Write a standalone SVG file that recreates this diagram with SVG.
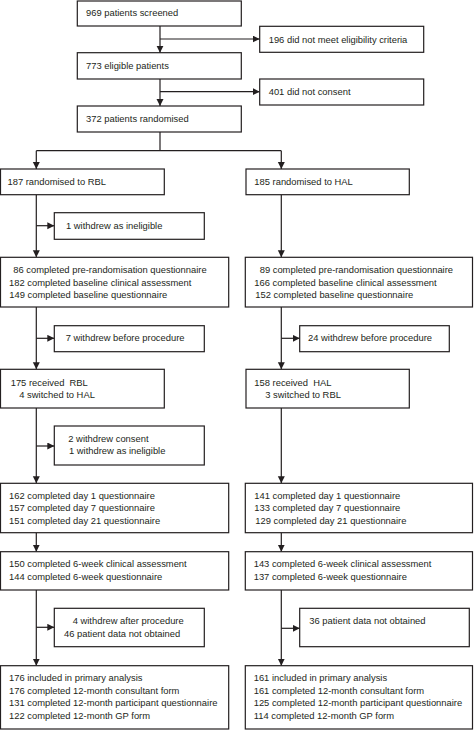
<svg xmlns="http://www.w3.org/2000/svg" width="474" height="730" viewBox="0 0 474 730">
<style>
rect.b{fill:#fff;stroke:#231f20;stroke-width:1.2}
text{font-family:"Liberation Sans",Arial,sans-serif;font-size:9.4px;fill:#231f20}
text.pre{white-space:pre}
.c path{fill:none;stroke:#231f20;stroke-width:1.2}
</style>
<defs>
<marker id="ah" markerUnits="userSpaceOnUse" markerWidth="8" markerHeight="8" refX="7" refY="3.5" orient="auto"><path d="M0,0 L7,3.5 L0,7 z" fill="#231f20"/></marker>
</defs>
<rect width="474" height="730" fill="#fff"/>
<g class="c" id="connectors">
<path d="M160,26 V52.7" marker-end="url(#ah)"/>
<path d="M160,39 H259.7" marker-end="url(#ah)"/>
<path d="M160,79 V106" marker-end="url(#ah)"/>
<path d="M160,91.7 H259.7" marker-end="url(#ah)"/>
<path d="M160,132 V150.7 M36.3,150.7 H281.3"/>
<path d="M36.3,150.7 V169" marker-end="url(#ah)"/>
<path d="M281.3,150.7 V169" marker-end="url(#ah)"/>
<path d="M36.3,194.7 V257.3" marker-end="url(#ah)"/>
<path d="M36.3,225.7 H54.3" marker-end="url(#ah)"/>
<path d="M36.3,307 V369.3" marker-end="url(#ah)"/>
<path d="M36.3,338.3 H54.3" marker-end="url(#ah)"/>
<path d="M36.3,408 V483.3" marker-end="url(#ah)"/>
<path d="M36.3,446 H54.3" marker-end="url(#ah)"/>
<path d="M36.3,532.7 V551.7" marker-end="url(#ah)"/>
<path d="M36.3,590 V665.7" marker-end="url(#ah)"/>
<path d="M36.3,627.3 H54.3" marker-end="url(#ah)"/>
<path d="M281.3,194.7 V257.3" marker-end="url(#ah)"/>
<path d="M281.3,307 V369.3" marker-end="url(#ah)"/>
<path d="M281.3,338.3 H299.7" marker-end="url(#ah)"/>
<path d="M281.3,408 V483.3" marker-end="url(#ah)"/>
<path d="M281.3,532.7 V551.7" marker-end="url(#ah)"/>
<path d="M281.3,590 V665.7" marker-end="url(#ah)"/>
<path d="M281.3,628.3 H299.7" marker-end="url(#ah)"/>
</g>
<g id="screened"><rect class="b" x="77.3" y="1" width="164" height="25"/><text x="86" y="16">969 patients screened</text></g>
<g id="ineligible"><rect class="b" x="259.7" y="26.3" width="164" height="26"/><text x="268.7" y="42.5">196 did not meet eligibility criteria</text></g>
<g id="eligible"><rect class="b" x="77.3" y="52.7" width="164" height="26.3"/><text x="86" y="68.5">773 eligible patients</text></g>
<g id="noconsent"><rect class="b" x="259.7" y="79" width="164" height="26"/><text x="268.7" y="95">401 did not consent</text></g>
<g id="randomised"><rect class="b" x="77.3" y="106" width="164" height="26"/><text x="86" y="121.6">372 patients randomised</text></g>
<g id="rbl"><rect class="b" x="0.5" y="169" width="163.8" height="25.7"/><text x="7.5" y="185">187 randomised to RBL</text></g>
<g id="hal"><rect class="b" x="246" y="169" width="163.3" height="25.7"/><text x="254.3" y="185">185 randomised to HAL</text></g>
<g id="rbl-w1"><rect class="b" x="54.3" y="212.7" width="150" height="26.6"/><text x="66" y="229">1 withdrew as ineligible</text></g>
<g id="rbl-baseline"><rect class="b" x="0.5" y="257.3" width="228.2" height="49.7"/>
<text x="13.3" y="273.3">86 completed pre-randomisation questionnaire</text>
<text x="9" y="285.6">182 completed baseline clinical assessment</text>
<text x="9.3" y="298.3">149 completed baseline questionnaire</text></g>
<g id="hal-baseline"><rect class="b" x="245.3" y="257.3" width="227.2" height="49.7"/>
<text x="259.7" y="273.3">89 completed pre-randomisation questionnaire</text>
<text x="254.3" y="285.6">166 completed baseline clinical assessment</text>
<text x="255.3" y="298.3">152 completed baseline questionnaire</text></g>
<g id="rbl-w2"><rect class="b" x="54.3" y="325.7" width="150" height="26"/><text x="65.7" y="340.8">7 withdrew before procedure</text></g>
<g id="hal-w2"><rect class="b" x="299.7" y="325.7" width="149.6" height="26"/><text x="308" y="340.8">24 withdrew before procedure</text></g>
<g id="rbl-received"><rect class="b" x="0.5" y="369.3" width="163.8" height="38.7"/>
<text class="pre" x="10.7" y="385.6">175 received  RBL</text>
<text x="19.3" y="397.6">4 switched to HAL</text></g>
<g id="hal-received"><rect class="b" x="246" y="369.3" width="163.3" height="38.7"/>
<text class="pre" x="254.3" y="385.6">158 received  HAL</text>
<text x="265.3" y="397.6">3 switched to RBL</text></g>
<g id="rbl-w3"><rect class="b" x="54.3" y="426" width="150" height="39"/>
<text x="68.3" y="442.3">2 withdrew consent</text>
<text x="69" y="454.3">1 withdrew as ineligible</text></g>
<g id="rbl-days"><rect class="b" x="0.5" y="483.3" width="228.2" height="49.4"/>
<text x="9" y="499">162 completed day 1 questionnaire</text>
<text x="9" y="511.3">157 completed day 7 questionnaire</text>
<text x="9" y="524">151 completed day 21 questionnaire</text></g>
<g id="hal-days"><rect class="b" x="245.3" y="483.3" width="227.2" height="49.4"/>
<text x="254.3" y="499">141 completed day 1 questionnaire</text>
<text x="254.3" y="511.3">133 completed day 7 questionnaire</text>
<text x="255.3" y="524">129 completed day 21 questionnaire</text></g>
<g id="rbl-6wk"><rect class="b" x="0.5" y="551.7" width="228.2" height="38.3"/>
<text x="9" y="567.3">150 completed 6-week clinical assessment</text>
<text x="9" y="580">144 completed 6-week questionnaire</text></g>
<g id="hal-6wk"><rect class="b" x="245.3" y="551.7" width="227.2" height="38.3"/>
<text x="253.7" y="567.3">143 completed 6-week clinical assessment</text>
<text x="253.7" y="580">137 completed 6-week questionnaire</text></g>
<g id="rbl-w4"><rect class="b" x="54.3" y="608.3" width="150" height="38.4"/>
<text x="72.7" y="624.3">4 withdrew after procedure</text>
<text x="64" y="636.6">46 patient data not obtained</text></g>
<g id="hal-w4"><rect class="b" x="299.7" y="608.3" width="169.6" height="38.4"/>
<text x="309.3" y="624.3">36 patient data not obtained</text></g>
<g id="rbl-final"><rect class="b" x="0.5" y="665.7" width="228.2" height="63.3"/>
<text x="9" y="681.3">176 included in primary analysis</text>
<text x="9" y="694">176 completed 12-month consultant form</text>
<text x="9" y="706.3">131 completed 12-month participant questionnaire</text>
<text x="9" y="718.6">122 completed 12-month GP form</text></g>
<g id="hal-final"><rect class="b" x="245.3" y="665.7" width="227.2" height="63.3"/>
<text x="253.7" y="681.3">161 included in primary analysis</text>
<text x="253.7" y="694">161 completed 12-month consultant form</text>
<text x="253.7" y="706.3">125 completed 12-month participant questionnaire</text>
<text x="253.7" y="718.6">114 completed 12-month GP form</text></g>
</svg>
